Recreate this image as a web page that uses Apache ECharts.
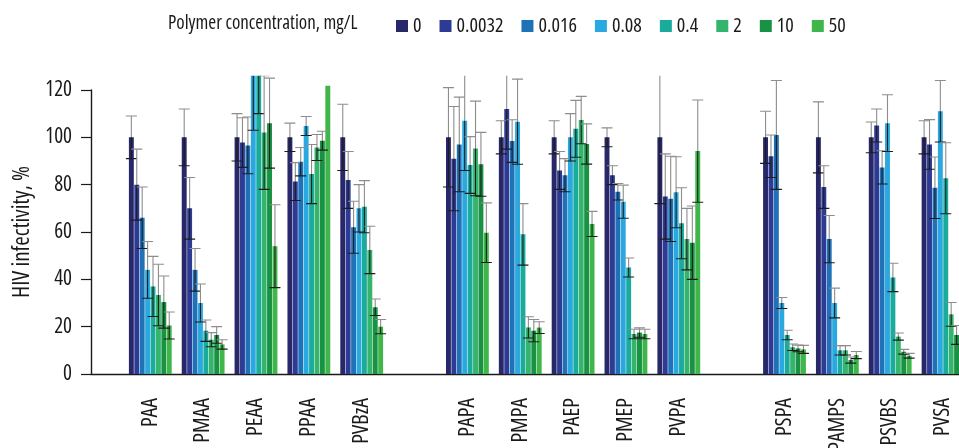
<!DOCTYPE html>
<html>
<head>
<meta charset="utf-8">
<script src="https://cdn.jsdelivr.net/npm/echarts@6/dist/echarts.min.js"></script>
<style>
html,body{margin:0;padding:0;background:#fff;}
#chart{width:959px;height:448px;}
</style>
</head>
<body>
<div id="chart"></div>
<script>
// ---------- DATA ----------
const categories = ['PAA','PMAA','PEAA','PPAA','PVBzA','','PAPA','PMPA','PAEP','PMEP','PVPA','','PSPA','PAMPS','PSVBS','PVSA'];
const seriesNames = ['0','0.0032','0.016','0.08','0.4','2','10','50'];
const yTicks = [0,20,40,60,80,100,120];

const v0     = [100,100,100,100,100,null,100,100,100,100,100,null,100,100,100,100];
const v0032  = [80,70,97.8,81.3,82,null,91,112,86,84,75,null,92,79,105,97];
const v016   = [66,44,96.6,89.7,62,null,97,98.4,84,77,74,null,101,57,87.3,78.7];
const v08    = [44,30,126,104.8,70,null,107,106.6,100,72.8,76.8,null,30,30,106,111];
const v4     = [37,18.3,126,84.5,70.7,null,88.3,59,103.6,45,63.7,null,16.5,10,40.8,82.7];
const v2     = [33.4,14.5,102,95.7,52.4,null,95.3,19.7,107.3,16.9,57,null,11.3,10,15.8,25.2];
const v10    = [30.4,16.5,106,98.6,28.2,null,88.6,18.3,97.2,17.5,55.5,null,10.8,5.9,9.4,16.5];
const v50    = [20.5,12.5,54,121.8,20,null,59.7,19.6,63.4,16.9,94.2,null,10.4,8,7.7,null];

const e0     = [9,12,10,6,14,null,21,7,7,4,28,null,11,15,6.5,7];
const e0032  = [15,13,10.5,8,12,null,22,17,8,4,18,null,9,9,7,10.5];
const e016   = [13,9,12,6,11,null,20,9,7,3.5,18,null,23,10,7,13];
const e08    = [12,8,23,4,10,null,21,18,10,7,15,null,2.3,6.3,12,13];
const e4     = [12.7,4.5,16,12.5,11,null,12,13,12,4,15,null,2,2,6,15];
const e2     = [13,3,24,5.5,10,null,20,4.5,10,2,13,null,1.4,2,1.5,5];
const e10    = [11,3.5,19,4,3.5,null,13.5,4.7,8.5,2,15.5,null,1.4,1.3,1,4];
const e50    = [5.7,2,17.5,null,3,null,12.6,2.5,5.3,2,21.6,null,1.7,1.5,1,null];

const values = [v0,v0032,v016,v08,v4,v2,v10,v50];
const errors = [e0,e0032,e016,e08,e4,e2,e10,e50];
const colors = ['#28276a','#2d3b95','#1f72b8','#2aa9e0','#1aab9c','#35b46e','#1a9244','#3fb64a'];

// ---------- LAYOUT / STYLE ----------
const FONT = "'Open Sans','Noto Sans',sans-serif";
const STRETCH = 'condensed';   // goes into the canvas font shorthand (font-stretch)
const CAT_GAP = 0.19, BAR_GAP = 0.1, N = seriesNames.length;
const PX_PER_UNIT = (374 - 90) / 120;
const VISIBLE_MAX = 126;

const txt = (size, extra) => Object.assign({fontFamily: FONT, fontWeight: STRETCH, fontSize: size, color: '#1a1a1a'}, extra || {});

const chart = echarts.init(document.getElementById('chart'), null, {renderer:'canvas'});

const barSeries = values.map((arr, si) => ({
  name: seriesNames[si],
  type: 'bar',
  xAxisIndex: 1, yAxisIndex: 1,
  data: arr,
  barGap: (BAR_GAP*100)+'%',
  barCategoryGap: (CAT_GAP*100)+'%',
  itemStyle: {color: colors[si]},
  emphasis: {disabled: true},
  clip: true,
  z: 2
}));

const errSeries = values.map((arr, si) => {
  const data = [];
  arr.forEach((v, i) => { const e = errors[si][i]; if (v != null && e != null) data.push([i, v, e]); });
  return {
    type: 'custom',
    xAxisIndex: 1, yAxisIndex: 1,
    clip: true,
    z: 5,
    silent: true,
    encode: {x: 0, y: 1},
    data: data,
    renderItem: function (params, api) {
      const i = api.value(0), v = api.value(1), e = api.value(2);
      const band = api.size([1, 0])[0];
      const groupW = band * (1 - CAT_GAP);
      const bw = groupW / (N + (N - 1) * BAR_GAP);
      const c = api.coord([i, v]);
      const x = c[0] - groupW / 2 + si * bw * (1 + BAR_GAP) + bw / 2;
      const yTop = api.coord([i, v + e])[1];
      const yBot = api.coord([i, v - e])[1];
      const yv = c[1];
      const cap = 5.5;
      const up = {stroke: '#8d8d8d', lineWidth: 1.1};
      const dn = {stroke: '#1c1c1c', lineWidth: 1.1};
      return {type: 'group', children: [
        {type: 'line', shape: {x1: x, y1: yv, x2: x, y2: yTop}, style: up},
        {type: 'line', shape: {x1: x - cap, y1: yTop, x2: x + cap, y2: yTop}, style: up},
        {type: 'line', shape: {x1: x, y1: yv, x2: x, y2: yBot}, style: dn},
        {type: 'line', shape: {x1: x - cap, y1: yBot, x2: x + cap, y2: yBot}, style: dn}
      ]};
    }
  };
});

const gridBottom = 448 - 374;
const slotW = 52.85;
const firstCenter = 150.3;

const option = {
  animation: false,
  backgroundColor: '#ffffff',
  textStyle: {fontFamily: FONT},
  title: {
    text: 'Polymer concentration, mg/L',
    left: 163, top: 9,
    textStyle: txt(19)
  },
  legend: {
    data: seriesNames,
    left: 391, top: 11,
    icon: 'rect',
    itemWidth: 12, itemHeight: 12,
    itemGap: 18,
    selectedMode: false,
    textStyle: txt(20)
  },
  grid: [
    {left: 91, right: 0, top: 90, bottom: gridBottom, containLabel: false, outerBoundsMode: 'none'},
    {left: firstCenter - slotW/2, width: slotW * categories.length, top: 374 - VISIBLE_MAX * PX_PER_UNIT, bottom: gridBottom, containLabel: false, outerBoundsMode: 'none'}
  ],
  xAxis: [
    {
      gridIndex: 0, type: 'value', min: 0, max: 1,
      axisLine: {show: true, onZero: false, lineStyle: {color: '#1a1a1a', width: 1.4}},
      axisTick: {show: false}, axisLabel: {show: false}, splitLine: {show: false}
    },
    {
      gridIndex: 1, type: 'category', data: categories,
      axisLine: {show: false}, axisTick: {show: false}, splitLine: {show: false},
      axisLabel: txt(22, {rotate: 90, margin: 24, interval: 0})
    }
  ],
  yAxis: [
    {
      gridIndex: 0, type: 'value', min: yTicks[0], max: yTicks[yTicks.length-1], interval: 20,
      name: 'HIV infectivity, %', nameLocation: 'middle', nameGap: 57, nameRotate: 90,
      nameTextStyle: txt(23),
      axisLine: {show: true, lineStyle: {color: '#1a1a1a', width: 1.4}},
      axisTick: {show: true, inside: false, length: 10, lineStyle: {color: '#1a1a1a', width: 1.2}},
      axisLabel: txt(21, {margin: 19}),
      splitLine: {show: false}
    },
    {
      gridIndex: 1, type: 'value', min: 0, max: VISIBLE_MAX, show: false,
      splitLine: {show: false}
    }
  ],
  series: barSeries.concat(errSeries)
};

chart.setOption(option);
</script>
</body>
</html>
